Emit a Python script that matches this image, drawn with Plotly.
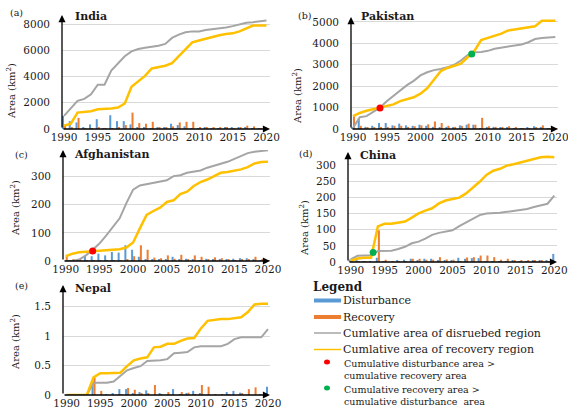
import plotly.graph_objects as go

W, H = 568, 407

# ---------------- data ----------------
years = list(range(1990, 2021))
x_tick_vals = [1990, 1995, 2000, 2005, 2010, 2015, 2020]

india_dist = [1000, 600, 500, 150, 350, 750, 10, 1050, 600, 600, 350, 150, 100, 50, 100, 150,
              400, 300, 200, 50, 20, 80, 50, 50, 100, 100, 150, 100, 50, 50, 100]
india_rec = [250, 150, 850, 30, 70, 150, 20, 50, 100, 300, 1250, 450, 400, 550, 100, 100,
             200, 500, 550, 550, 150, 150, 100, 150, 100, 50, 150, 250, 200, 20, 20]
india_cum_dist = [1000, 1600, 2150, 2300, 2650, 3380, 3380, 4450, 5000, 5550, 5920, 6100, 6200, 6250,
                  6350, 6490, 6950, 7200, 7380, 7450, 7450, 7550, 7600, 7650, 7750, 7850, 8000,
                  8100, 8150, 8200, 8280]
india_cum_rec = [250, 410, 1250, 1280, 1350, 1500, 1510, 1560, 1640, 1950, 3230, 3670, 4050, 4620,
                 4720, 4830, 5030, 5550, 6100, 6610, 6750, 6900, 7000, 7150, 7250, 7300, 7450,
                 7700, 7900, 7900, 7900]
india_yticks = [0, 2000, 4000, 6000, 8000]

pak_dist = [50, 490, 100, 150, 280, 280, 170, 250, 170, 150, 200, 150, 100, 50, 100, 80,
            170, 200, 200, 20, 50, 100, 50, 50, 20, 20, 80, 130, 50, 30, 20]
pak_rec = [600, 150, 80, 70, 100, 100, 150, 150, 100, 130, 170, 220, 350, 280, 150, 100,
           150, 250, 200, 520, 130, 100, 100, 130, 50, 30, 30, 50, 170, 10, 10]
pak_cum_dist = [50, 550, 600, 780, 1000, 1300, 1550, 1800, 2050, 2250, 2500, 2650, 2750, 2800,
                2880, 3000, 3200, 3450, 3580, 3600, 3650, 3750, 3800, 3850, 3900, 3950, 4050,
                4200, 4250, 4280, 4300]
pak_cum_rec = [600, 750, 850, 920, 980, 1050, 1150, 1300, 1380, 1480, 1650, 1900, 2300, 2700,
               2850, 2950, 3050, 3350, 3650, 4150, 4250, 4350, 4450, 4600, 4650, 4700, 4750,
               4800, 5050, 5050, 5050]
pak_yticks = [0, 1000, 2000, 3000, 4000, 5000]
pak_red_x, pak_red_y = [1994], [975]
pak_green_x, pak_green_y = [2007.6], [3500]

afg_dist = [0, 2, 5, 17, 17, 26, 20, 32, 30, 56, 40, 15, 5, 5, 5, 5, 15, 5, 8, 4, 3, 8,
            7, 7, 7, 8, 10, 10, 5, 3, 2]
afg_rec = [17, 7, 5, 2, 2, 2, 3, 2, 2, 5, 17, 56, 40, 12, 10, 20, 8, 22, 7, 20, 15, 7,
           13, 10, 5, 3, 5, 7, 15, 5, 1]
afg_cum_dist = [0, 0, 5, 20, 40, 62, 90, 122, 152, 206, 254, 269, 274, 278, 283, 287, 302, 305,
                314, 317, 322, 332, 338, 346, 353, 363, 374, 384, 389, 392, 394]
afg_cum_rec = [17, 26, 31, 33, 35, 38, 40, 41, 42, 48, 66, 116, 164, 178, 190, 210, 216, 238,
               247, 267, 281, 290, 302, 314, 317, 322, 326, 334, 347, 352, 353]
afg_yticks = [0, 100, 200, 300]
afg_red_x, afg_red_y = [1994], [36]

chn_dist = [8, 11, 1, 1, 13, 2, 0, 5, 7, 10, 5, 10, 10, 5, 5, 4, 13, 10, 12, 12, 2, 1,
            2, 3, 4, 2, 3, 5, 5, 5, 25]
chn_rec = [4, 3, 2, 0, 98, 7, 2, 3, 3, 10, 10, 7, 7, 15, 8, 7, 3, 14, 15, 20, 20, 15,
           7, 10, 5, 5, 6, 5, 4, 1, 0]
chn_cum_dist = [8, 19, 20, 20, 34, 35, 35, 40, 47, 58, 63, 72, 84, 90, 94, 98, 111, 123, 135,
                145, 150, 150, 152, 155, 158, 161, 164, 170, 175, 180, 205]
chn_cum_rec = [4, 11, 13, 13, 110, 118, 118, 122, 125, 137, 150, 159, 166, 181, 190, 195, 199,
               212, 230, 248, 269, 282, 288, 298, 302, 308, 314, 320, 324, 325, 324]
chn_yticks = [0, 50, 100, 150, 200, 250, 300]
chn_green_x, chn_green_y = [1993.3], [29]

npl_dist = [0, 0, 0, 0, 0.18, 0, 0.01, 0.03, 0.10, 0.10, 0.03, 0.05, 0.08, 0, 0.02, 0,
            0.10, 0.01, 0.02, 0.07, 0.03, 0, 0, 0, 0.05, 0.07, 0.04, 0, 0, 0.01, 0.14]
npl_rec = [0, 0, 0, 0, 0.30, 0.07, 0, 0, 0.01, 0.12, 0.09, 0.03, 0.03, 0.17, 0.01, 0.05,
           0, 0.05, 0.04, 0.01, 0.17, 0.14, 0.01, 0.01, 0.01, 0, 0.02, 0.10, 0.13, 0, 0]
npl_cum_dist = [0, 0, 0, 0, 0.21, 0.21, 0.21, 0.23, 0.33, 0.42, 0.46, 0.49, 0.58, 0.58, 0.59,
                0.61, 0.71, 0.72, 0.73, 0.81, 0.83, 0.83, 0.83, 0.83, 0.87, 0.95, 0.98, 0.98,
                0.98, 0.98, 1.12]
npl_cum_rec = [0, 0, 0, 0, 0.30, 0.37, 0.37, 0.37, 0.38, 0.49, 0.59, 0.62, 0.64, 0.81, 0.82,
               0.87, 0.87, 0.92, 0.96, 0.97, 1.13, 1.26, 1.28, 1.29, 1.29, 1.31, 1.32, 1.41,
               1.54, 1.55, 1.55]
npl_yticks = [0, 0.5, 1, 1.5]

countries = ["India", "Pakistan", "Afghanistan", "China", "Nepal"]
panel_tags = ["(a)", "(b)", "(c)", "(d)", "(e)"]
legend_title = "Legend"
legend_labels = ["Disturbance", "Recovery",
                 "Cumlative area of disruebed region",
                 "Cumlative area of recovery region"]
legend_red_lines = ["Cumulative disturbance area >", "cumulative recovery area"]
legend_green_lines = ["Cumulative recovery area >", "cumulative disturbance  area"]

series = [
    (india_dist, india_rec, india_cum_dist, india_cum_rec, india_yticks, None, None),
    (pak_dist, pak_rec, pak_cum_dist, pak_cum_rec, pak_yticks, (pak_red_x, pak_red_y), (pak_green_x, pak_green_y)),
    (afg_dist, afg_rec, afg_cum_dist, afg_cum_rec, afg_yticks, (afg_red_x, afg_red_y), None),
    (chn_dist, chn_rec, chn_cum_dist, chn_cum_rec, chn_yticks, None, (chn_green_x, chn_green_y)),
    (npl_dist, npl_rec, npl_cum_dist, npl_cum_rec, npl_yticks, None, None),
]

# ---------------- layout (pixel geometry) ----------------
geo = [
    dict(l=62, r=270, b=129, t=15, xr=[1989.70, 2020.52], ymax=8700,
         title=(73, 17), tag=(8, 13), ytitle=(11, 91)),
    dict(l=351, r=558, b=129, t=17, xr=[1989.70, 2020.40], ymax=5230,
         title=(359, 17), tag=(296, 15), ytitle=(297, 96)),
    dict(l=63, r=270, b=261, t=150, xr=[1989.60, 2020.30], ymax=395,
         title=(72, 154), tag=(13, 154), ytitle=(15, 208)),
    dict(l=348, r=557, b=262, t=152, xr=[1989.60, 2020.40], ymax=340,
         title=(358, 155), tag=(297, 153), ytitle=(304, 228)),
    dict(l=63, r=270, b=395, t=285, xr=[1989.45, 2020.30], ymax=1.87,
         title=(73, 288), tag=(13, 285), ytitle=(15, 342)),
]

def px(v):
    return v / W

def py(v):
    return 1 - v / H

BLUE = "#5B9BD5"
ORANGE = "#ED7D31"
GREY = "#A5A5A5"
YELLOW = "#FFC000"
RED = "#FF0000"
GREEN = "#00B050"
FONT = "DejaVu Serif"
TXT = "#1a1a1a"

fig = go.Figure()
layout = dict(width=W, height=H,
              margin=dict(l=0, r=0, t=0, b=0, pad=0, autoexpand=False),
              paper_bgcolor="white", plot_bgcolor="white",
              barmode="group", bargap=0.4, bargroupgap=0.0,
              showlegend=False)
annotations = []
shapes = []

for i, (g, s) in enumerate(zip(geo, series)):
    n = "" if i == 0 else str(i + 1)
    xa, ya = "x" + n, "y" + n
    dist, rec, cdist, crec, yticks, red, green = s
    layout["xaxis" + n] = dict(domain=[px(g["l"]), px(g["r"])], range=g["xr"], anchor=ya,
                               tickvals=x_tick_vals, showgrid=False, zeroline=False,
                               showline=False, ticks="", automargin=False,
                               ticklabeloverflow="allow",
                               tickfont=dict(family=FONT, size=10.5, color=TXT))
    layout["yaxis" + n] = dict(domain=[py(g["b"]), py(g["t"])], range=[0, g["ymax"]], anchor=xa,
                               tickvals=yticks, showgrid=True, gridcolor="#d9d9d9", gridwidth=1,
                               zeroline=False, showline=False, ticks="", automargin=False,
                               ticklabelstandoff=11, ticklabeloverflow="allow",
                               tickfont=dict(family=FONT, size=10.5, color=TXT))
    fig.add_trace(go.Bar(x=years, y=dist, marker=dict(color=BLUE, line=dict(width=0)),
                         xaxis=xa, yaxis=ya, name="Disturbance"))
    fig.add_trace(go.Bar(x=years, y=rec, marker=dict(color=ORANGE, line=dict(width=0)),
                         xaxis=xa, yaxis=ya, name="Recovery"))
    fig.add_trace(go.Scatter(x=years, y=cdist, mode="lines", line=dict(color=GREY, width=2),
                             xaxis=xa, yaxis=ya))
    fig.add_trace(go.Scatter(x=years, y=crec, mode="lines", line=dict(color=YELLOW, width=2.5),
                             xaxis=xa, yaxis=ya))
    if red:
        fig.add_trace(go.Scatter(x=red[0], y=red[1], mode="markers",
                                 marker=dict(color=RED, size=7), xaxis=xa, yaxis=ya))
    if green:
        fig.add_trace(go.Scatter(x=green[0], y=green[1], mode="markers",
                                 marker=dict(color=GREEN, size=7), xaxis=xa, yaxis=ya))
    # axes with arrows
    annotations.append(dict(x=px(g["l"]), y=py(g["t"]), xref="paper", yref="paper",
                            ax=0, ay=g["b"] - g["t"], text="", showarrow=True,
                            arrowhead=2, arrowsize=1.1, arrowwidth=1.3, arrowcolor="black"))
    annotations.append(dict(x=px(g["r"]), y=py(g["b"]), xref="paper", yref="paper",
                            ax=-(g["r"] - g["l"]), ay=0, text="", showarrow=True,
                            arrowhead=2, arrowsize=1.1, arrowwidth=1.3, arrowcolor="black"))
    annotations.append(dict(x=px(g["title"][0]), y=py(g["title"][1]), xref="paper", yref="paper",
                            xanchor="left", yanchor="middle", showarrow=False, text=countries[i],
                            font=dict(family=FONT, size=11, color=TXT, weight="bold")))
    annotations.append(dict(x=px(g["tag"][0]), y=py(g["tag"][1]), xref="paper", yref="paper",
                            xanchor="left", yanchor="middle", showarrow=False, text=panel_tags[i],
                            font=dict(family=FONT, size=9.5, color=TXT)))
    annotations.append(dict(x=px(g["ytitle"][0]), y=py(g["ytitle"][1]), xref="paper", yref="paper",
                            xanchor="center", yanchor="middle", showarrow=False, textangle=-90,
                            text="Area (km<sup>2</sup>)",
                            font=dict(family=FONT, size=10, color=TXT)))

# ---------------- manual legend ----------------
annotations.append(dict(x=px(311), y=py(287), xref="paper", yref="paper", xanchor="left",
                        yanchor="middle", showarrow=False, text=legend_title,
                        font=dict(family=FONT, size=12, color=TXT, weight="bold")))
leg_rows = [(300.5, BLUE, 4), (317, ORANGE, 4), (333, GREY, 1.5), (349.5, YELLOW, 1.5)]
for (yy, col, w), lab in zip(leg_rows, legend_labels):
    shapes.append(dict(type="line", xref="paper", yref="paper", x0=px(314), x1=px(341),
                       y0=py(yy), y1=py(yy), line=dict(color=col, width=w)))
    annotations.append(dict(x=px(341), y=py(yy), xref="paper", yref="paper", xanchor="left",
                            yanchor="middle", showarrow=False, text=lab,
                            font=dict(family=FONT, size=11, color=TXT)))
for (top, cy, col, lines) in [(356, 362, RED, legend_red_lines), (382, 388, GREEN, legend_green_lines)]:
    shapes.append(dict(type="circle", xref="paper", yref="paper", x0=px(324), x1=px(330),
                       y0=py(cy + 2.5), y1=py(cy - 2.5), fillcolor=col, line=dict(width=0)))
    annotations.append(dict(x=px(342), y=py(top), xref="paper", yref="paper",
                            xanchor="left", yanchor="top", showarrow=False,
                            text="<br>".join(lines), align="left",
                            font=dict(family=FONT, size=9.5, color=TXT)))

layout["annotations"] = annotations
layout["shapes"] = shapes
fig.update_layout(**layout)
fig.write_html("out.html", config={"displayModeBar": False},
               post_script="document.body.style.margin='0';document.body.style.overflow='hidden';")
